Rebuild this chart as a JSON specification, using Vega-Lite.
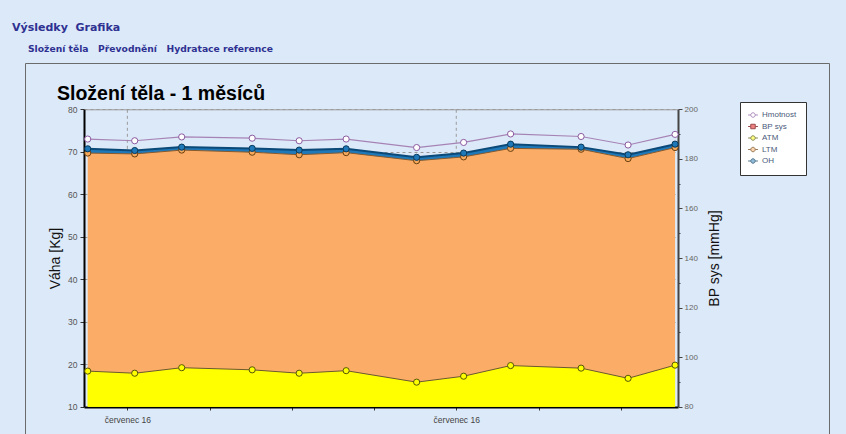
{
  "$schema": "https://vega.github.io/schema/vega-lite/v6.json",
  "autosize": "pad",
  "padding": {"left": 12, "top": 22, "right": 17, "bottom": 0},
  "background": "#dce9f8",
  "title": {
    "text": "Výsledky\u00a0\u00a0Grafika",
    "subtitle": "\u200b\u00a0\u00a0\u00a0\u00a0\u00a0Složení těla\u00a0\u00a0\u00a0Převodnění\u00a0\u00a0\u00a0Hydratace reference",
    "anchor": "start",
    "frame": "group",
    "dx": -13,
    "offset": 8,
    "font": "DejaVu Sans",
    "fontSize": 11,
    "fontWeight": "bold",
    "color": "#2e3192",
    "subtitleFont": "DejaVu Sans",
    "subtitleFontSize": 9.2,
    "subtitleFontWeight": "bold",
    "subtitleColor": "#2e3192",
    "subtitlePadding": 12
  },
  "datasets": {
    "mereni": [
      {"datum": "2016-07-05T07:30", "Hmotnost": 73.0, "ATM": 18.4, "LTM": 69.7, "OH": 70.7},
      {"datum": "2016-07-07T07:30", "Hmotnost": 72.6, "ATM": 17.9, "LTM": 69.5, "OH": 70.3},
      {"datum": "2016-07-09T07:30", "Hmotnost": 73.5, "ATM": 19.2, "LTM": 70.4, "OH": 71.1},
      {"datum": "2016-07-12T07:30", "Hmotnost": 73.2, "ATM": 18.7, "LTM": 69.9, "OH": 70.8},
      {"datum": "2016-07-14T07:30", "Hmotnost": 72.6, "ATM": 17.9, "LTM": 69.3, "OH": 70.4},
      {"datum": "2016-07-16T07:30", "Hmotnost": 73.0, "ATM": 18.5, "LTM": 69.8, "OH": 70.7},
      {"datum": "2016-07-19T07:30", "Hmotnost": 71.0, "ATM": 15.8, "LTM": 67.9, "OH": 68.7},
      {"datum": "2016-07-21T07:30", "Hmotnost": 72.2, "ATM": 17.2, "LTM": 68.8, "OH": 69.7},
      {"datum": "2016-07-23T07:30", "Hmotnost": 74.2, "ATM": 19.7, "LTM": 70.8, "OH": 71.8},
      {"datum": "2016-07-26T07:30", "Hmotnost": 73.6, "ATM": 19.1, "LTM": 70.6, "OH": 71.1},
      {"datum": "2016-07-28T07:30", "Hmotnost": 71.6, "ATM": 16.7, "LTM": 68.4, "OH": 69.3},
      {"datum": "2016-07-30T07:30", "Hmotnost": 74.1, "ATM": 19.8, "LTM": 71.0, "OH": 71.8}
    ]
  },
  "vconcat": [
    {
      "width": 804,
      "height": 371,
      "title": {
        "text": "Složení těla - 1 měsíců",
        "anchor": "start",
        "frame": "group",
        "dx": 32,
        "offset": -41,
        "font": "Liberation Sans",
        "fontSize": 19.5,
        "fontWeight": "bold",
        "color": "#000000"
      },
      "data": {"name": "mereni"},
      "resolve": {"scale": {"y": "independent"}, "axis": {"x": "independent", "y": "independent"}},
      "layer": [
        {
          "layer": [
            {
              "mark": {"type": "area", "color": "#ffff00", "opacity": 1},
              "encoding": {
                "x": {
                  "field": "datum", "type": "temporal", "title": null,
                  "scale": {
                    "domain": [{"year": 2016, "month": 7, "date": 5, "hours": 3, "minutes": 42}, {"year": 2016, "month": 7, "date": 30, "hours": 10, "minutes": 30}],
                    "range": [59, 653]
                  },
                  "axis": {
                    "orient": "bottom", "offset": -27,
                    "values": [
                      {"year": 2016, "month": 7, "date": 7},
                      {"year": 2016, "month": 7, "date": 10, "hours": 12},
                      {"year": 2016, "month": 7, "date": 14},
                      {"year": 2016, "month": 7, "date": 17, "hours": 12},
                      {"year": 2016, "month": 7, "date": 21},
                      {"year": 2016, "month": 7, "date": 24, "hours": 12},
                      {"year": 2016, "month": 7, "date": 28}
                    ],
                    "labelExpr": "date(datum.value) % 14 == 7 && hours(datum.value) == 0 ? 'červenec ' + timeFormat(datum.value, '%y') : ''",
                    "grid": false,
                    "domainColor": "#000000", "domainWidth": 2,
                    "tickColor": "#333333", "tickSize": 3,
                    "labelFont": "Liberation Sans", "labelFontSize": 8.5, "labelColor": "#444444", "labelPadding": 5,
                    "labelFlush": false
                  }
                },
                "y": {
                  "field": "ATM", "type": "quantitative", "title": "Váha [Kg]",
                  "scale": {"domain": [10, 80], "range": [343.8, 46.3], "nice": false, "zero": false},
                  "axis": {
                    "orient": "left", "offset": -59,
                    "values": [10, 15, 20, 25, 30, 35, 40, 45, 50, 55, 60, 65, 70, 75, 80],
                    "labelExpr": "datum.value % 10 == 0 ? datum.label : ''",
                    "tickSize": {"condition": {"test": "datum.value % 10 == 0", "value": 4}, "value": 2},
                    "grid": true,
                    "gridDash": [3, 3],
                    "gridColor": "#9a9a9a",
                    "gridOpacity": {"condition": {"test": "datum.value % 10 == 0", "value": 1}, "value": 0},
                    "domainColor": "#000000", "domainWidth": 2,
                    "tickColor": "#333333",
                    "labelFont": "Liberation Sans", "labelFontSize": 8.5, "labelColor": "#555555", "labelPadding": 3,
                    "titleFont": "Liberation Sans", "titleFontSize": 14, "titleFontWeight": "normal", "titleColor": "#111111", "titlePadding": 5
                  }
                },
                "y2": {"datum": 10}
              }
            },
            {
              "data": {"values": [{}]},
              "mark": {"type": "rule", "color": "#9a9a9a", "strokeDash": [3, 3], "strokeWidth": 1},
              "encoding": {
                "x": {"datum": {"year": 2016, "month": 7, "date": 7}, "type": "temporal", "title": null},
                "y": {"datum": 10, "type": "quantitative", "title": "Váha [Kg]"},
                "y2": {"datum": 80}
              }
            },
            {
              "data": {"values": [{}]},
              "mark": {"type": "rule", "color": "#9a9a9a", "strokeDash": [3, 3], "strokeWidth": 1},
              "encoding": {
                "x": {"datum": {"year": 2016, "month": 7, "date": 21}, "type": "temporal", "title": null},
                "y": {"datum": 10, "type": "quantitative", "title": "Váha [Kg]"},
                "y2": {"datum": 80}
              }
            },
            {
              "mark": {"type": "area", "color": "#ffff00", "opacity": 1},
              "encoding": {
                "x": {"field": "datum", "type": "temporal"},
                "y": {"field": "ATM", "type": "quantitative", "title": "Váha [Kg]"},
                "y2": {"datum": 10}
              }
            },
            {
              "mark": {"type": "area", "color": "#fbad68", "opacity": 1},
              "encoding": {
                "x": {"field": "datum", "type": "temporal"},
                "y": {"field": "LTM", "type": "quantitative", "title": "Váha [Kg]"},
                "y2": {"field": "ATM"}
              }
            },
            {
              "mark": {"type": "area", "color": "#1f78b8", "opacity": 1},
              "encoding": {
                "x": {"field": "datum", "type": "temporal"},
                "y": {"field": "OH", "type": "quantitative", "title": "Váha [Kg]"},
                "y2": {"field": "LTM"}
              }
            },
            {
              "mark": {"type": "line", "color": "#6b5a2a", "strokeWidth": 1,
                       "point": {"filled": true, "fill": "#ffff00", "stroke": "#55550a", "strokeWidth": 1, "size": 38}},
              "encoding": {
                "x": {"field": "datum", "type": "temporal"},
                "y": {"field": "ATM", "type": "quantitative", "title": "Váha [Kg]"}
              }
            },
            {
              "mark": {"type": "line", "color": "#8a5a2a", "strokeWidth": 1,
                       "point": {"filled": true, "fill": "#f7a85a", "stroke": "#6a4010", "strokeWidth": 1, "size": 38}},
              "encoding": {
                "x": {"field": "datum", "type": "temporal"},
                "y": {"field": "LTM", "type": "quantitative", "title": "Váha [Kg]"}
              }
            },
            {
              "mark": {"type": "line", "color": "#0b4a78", "strokeWidth": 2,
                       "point": {"filled": true, "fill": "#1f78b8", "stroke": "#083a5c", "strokeWidth": 1, "size": 38}},
              "encoding": {
                "x": {"field": "datum", "type": "temporal"},
                "y": {"field": "OH", "type": "quantitative", "title": "Váha [Kg]"}
              }
            },
            {
              "mark": {"type": "line", "color": "#a683b5", "strokeWidth": 1.2,
                       "point": {"filled": true, "fill": "#ffffff", "stroke": "#8a5aa0", "strokeWidth": 1, "size": 38}},
              "encoding": {
                "x": {"field": "datum", "type": "temporal"},
                "y": {"field": "Hmotnost", "type": "quantitative", "title": "Váha [Kg]"}
              }
            },
            {
              "transform": [{"filter": "false"}],
              "mark": {"type": "point", "filled": true, "strokeWidth": 1},
              "encoding": {
                "fill": {
                  "field": "serie", "type": "nominal",
                  "scale": {"domain": ["Hmotnost", "BP sys", "ATM", "LTM", "OH"], "range": ["#ffffff", "#e00000", "#ffff00", "#f7a85a", "#1f78b8"]},
                  "legend": {
                    "orient": "none", "legendX": 715, "legendY": 39,
                    "title": null,
                    "fillColor": "#ffffff", "strokeColor": "#333333",
                    "padding": 9,
                    "labelFont": "Liberation Sans", "labelFontSize": 8, "labelColor": "#4a5a7a", "labelOffset": 5,
                    "symbolSize": 20, "symbolStrokeWidth": 1, "rowPadding": 1.5
                  }
                },
                "stroke": {
                  "field": "serie", "type": "nominal",
                  "scale": {"domain": ["Hmotnost", "BP sys", "ATM", "LTM", "OH"], "range": ["#8a5aa0", "#700000", "#55550a", "#6a4010", "#083a5c"]}
                },
                "shape": {
                  "field": "serie", "type": "nominal",
                  "scale": {"domain": ["Hmotnost", "BP sys", "ATM", "LTM", "OH"],
                            "range": [
                              "M-2.2,0H-1M1,0H2.2M1,0A1,1,0,1,1,-1,0A1,1,0,1,1,1,0Z",
                              "M-2.2,0H-1M1,0H2.2M-1,-1H1V1H-1Z",
                              "M-2.2,0H-1M1,0H2.2M1,0A1,1,0,1,1,-1,0A1,1,0,1,1,1,0Z",
                              "M-2.2,0H-1M1,0H2.2M1,0A1,1,0,1,1,-1,0A1,1,0,1,1,1,0Z",
                              "M-2.2,0H-1M1,0H2.2M1,0A1,1,0,1,1,-1,0A1,1,0,1,1,1,0Z"
                            ]}
                }
              }
            }
          ]
        },
        {
          "mark": {"type": "point", "opacity": 0},
          "encoding": {
            "x": {
              "field": "datum", "type": "temporal", "title": null,
              "axis": {"orient": "top", "offset": -46.3, "labels": false, "ticks": false, "grid": false, "domainColor": "#9a9a9a", "domainWidth": 1}
            },
            "y": {
              "datum": 200, "type": "quantitative", "title": "BP sys [mmHg]",
              "scale": {"domain": [80, 200], "range": [343.8, 46.3], "nice": false, "zero": false},
              "axis": {
                "title": "BP sys [mmHg]",
                "orient": "right", "offset": -151,
                "values": [80, 90, 100, 110, 120, 130, 140, 150, 160, 170, 180, 190, 200],
                "labelExpr": "datum.value % 20 == 0 ? datum.label : ''",
                "tickSize": {"condition": {"test": "datum.value % 20 == 0", "value": 4}, "value": 2},
                "grid": false,
                "domainColor": "#444444", "domainWidth": 2,
                "tickColor": "#444444",
                "labelFont": "Liberation Sans", "labelFontSize": 8, "labelColor": "#666666", "labelPadding": 2,
                "titleFont": "Liberation Sans", "titleFontSize": 14, "titleFontWeight": "normal", "titleColor": "#111111",
                "titlePadding": 24, "titleAngle": 270
              }
            }
          }
        }
      ]
    }
  ],
  "config": {
    "view": {"fill": "#ffffff", "stroke": "#6b6b6b", "strokeWidth": 1},
    "concat": {"spacing": 0}
  }
}
